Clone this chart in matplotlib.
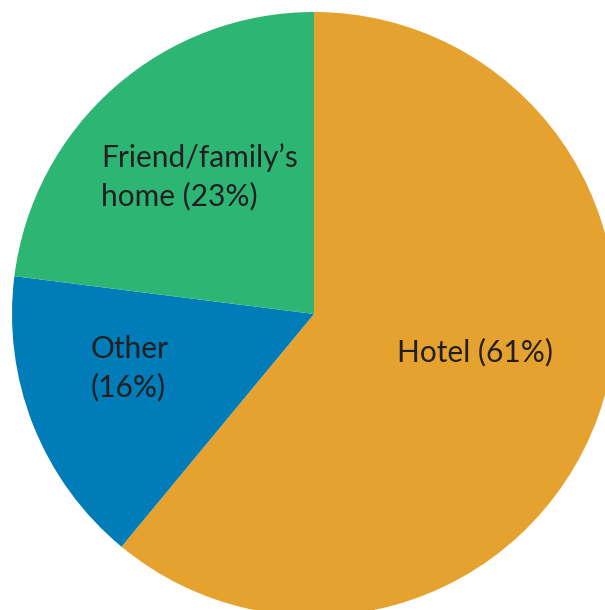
import matplotlib
matplotlib.use("Agg")
import matplotlib.pyplot as plt

# ── Data ──────────────────────────────────────────────────────────────────────
CATEGORIES = ["Hotel", "Other", "Friend/family’s\nhome"]
SHARES     = [61, 16, 23]
COLORS     = ["#E5A22F", "#007CB8", "#2DB574"]
LABEL_SEP  = [" ", "\n", " "]

# label anchor (data coords, radius = 1), left aligned
LABEL_POS  = [(0.275, -0.125), (-0.74, -0.18), (-0.705, 0.455)]

plt.rcParams["font.family"] = ["Lato", "DejaVu Sans"]

fig = plt.figure(figsize=(6.05, 6.10), dpi=100, facecolor="white")
ax = fig.add_axes([0, 0, 1, 1])

ax.pie(SHARES, colors=COLORS, startangle=90, counterclock=False,
       radius=1.0, wedgeprops=dict(linewidth=0))

for name, v, sep, (x, y) in zip(CATEGORIES, SHARES, LABEL_SEP, LABEL_POS):
    ax.text(x, y, f"{name}{sep}({v}%)", ha="left", va="center",
            fontsize=21.5, color="#231F20", linespacing=1.42)

# circle centre at (314, 314) px from top-left, radius 302 px
ax.set_xlim(-314 / 302, (605 - 314) / 302)
ax.set_ylim(-(610 - 314) / 302, 314 / 302)
ax.set_aspect("auto")
ax.axis("off")

fig.savefig("out.png", dpi=100, facecolor="white")
